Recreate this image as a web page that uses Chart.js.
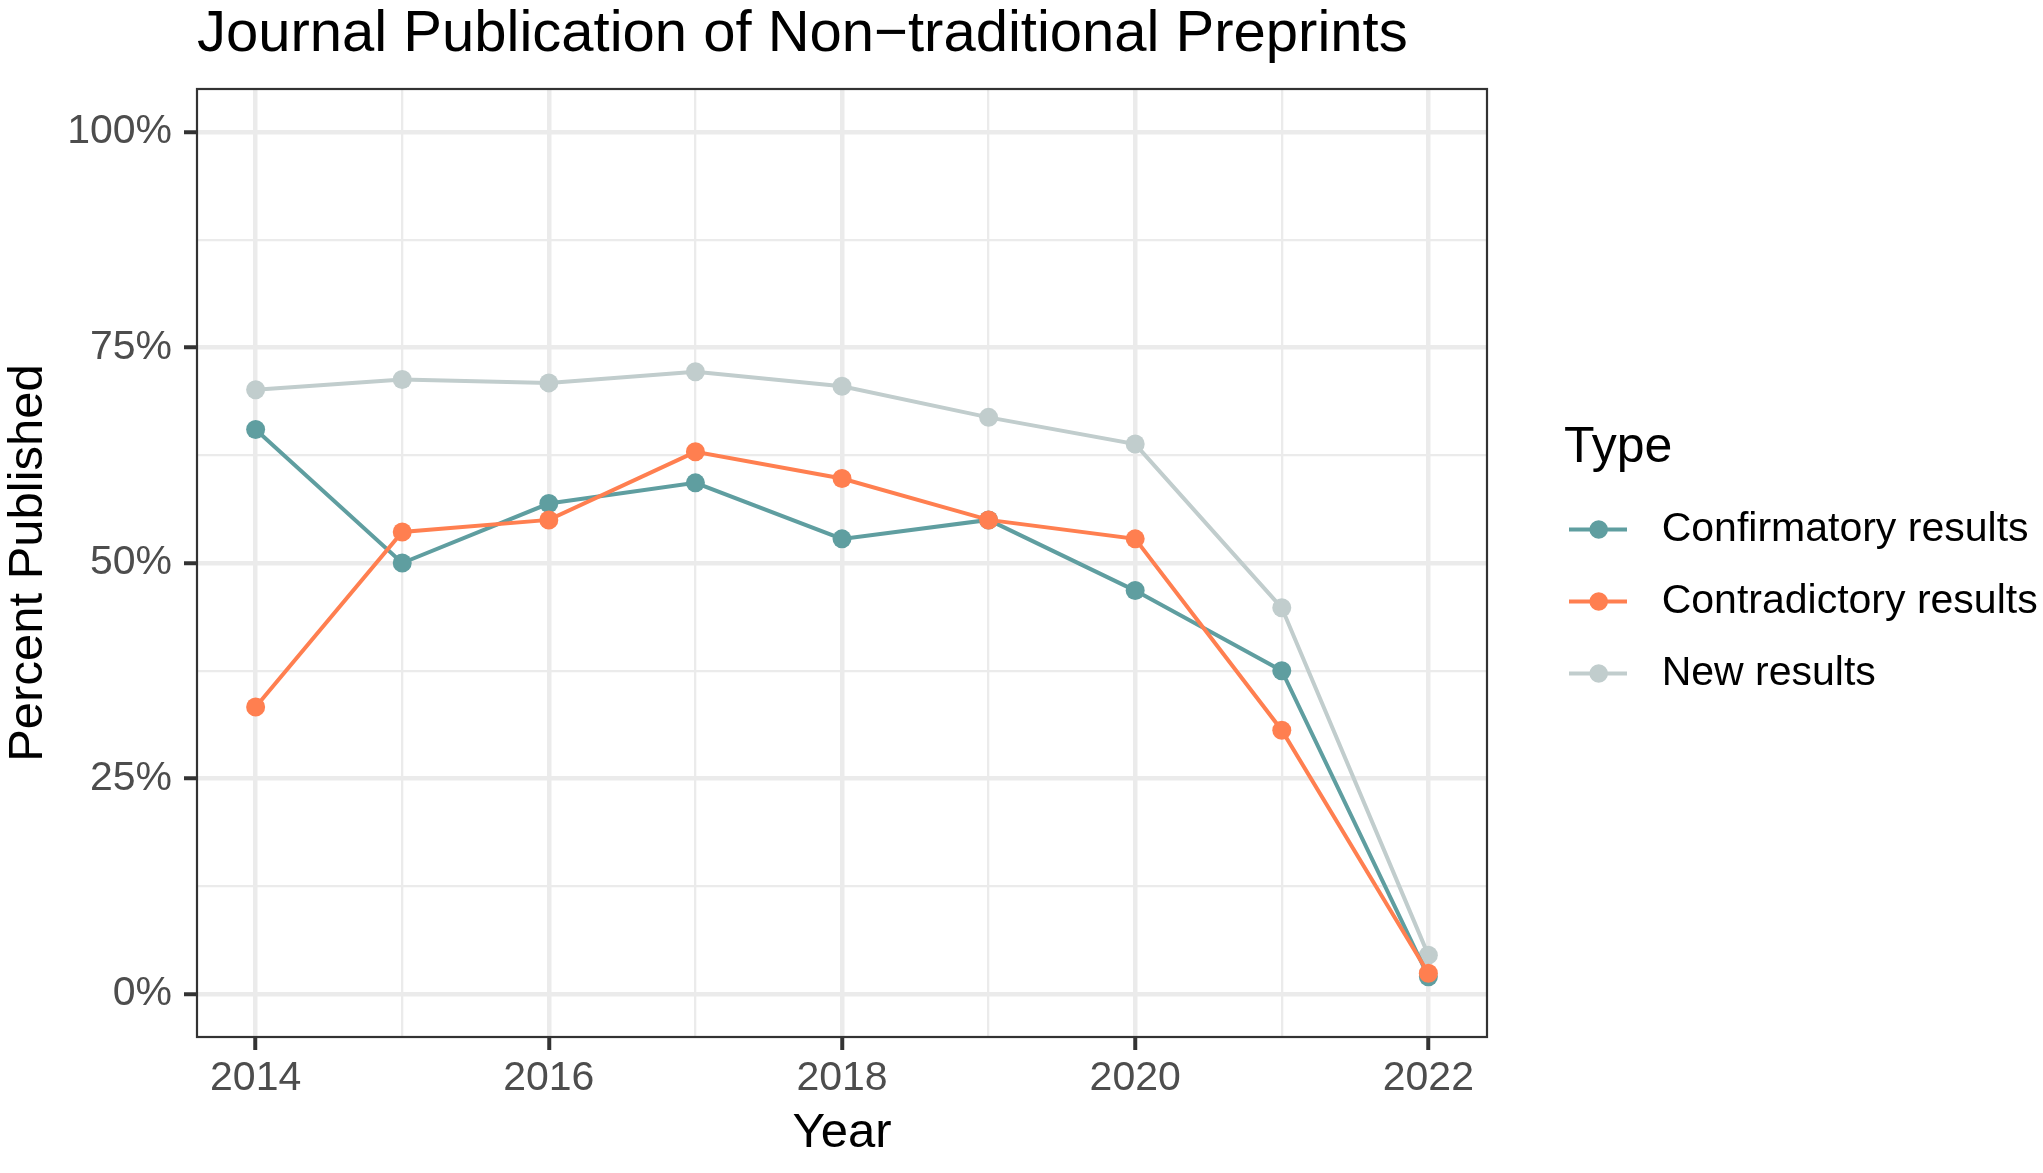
<!DOCTYPE html>
<html>
<head>
<meta charset="utf-8">
<title>Journal Publication of Non-traditional Preprints</title>
<script src="https://cdn.jsdelivr.net/npm/chart.js@4/dist/chart.umd.min.js"></script>
<style>
  html, body { margin: 0; padding: 0; background: #ffffff; }
  #wrap { width: 2043px; height: 1173px; }
</style>
</head>
<body>
<div id="wrap"><canvas id="chart" width="2043" height="1173"></canvas></div>
<script>
// data (percent published per year)
const years = [2014, 2015, 2016, 2017, 2018, 2019, 2020, 2021, 2022];
const confirmatory = [65.5, 50.0, 56.9, 59.3, 52.8, 55.0, 46.8, 37.5, 2.0];
const contradictory = [33.3, 53.6, 55.0, 62.9, 59.8, 55.0, 52.8, 30.6, 2.4];
const newResults = [70.1, 71.3, 70.9, 72.2, 70.5, 66.9, 63.8, 44.8, 4.5];

const seriesNames = ['Confirmatory results', 'Contradictory results', 'New results'];
const seriesColors = ['#5F9EA0', '#FF7F50', '#C1CDCD'];
const seriesValues = [confirmatory, contradictory, newResults];

// major + minor breaks, ggplot style
const yBreaks = [0, 12.5, 25, 37.5, 50, 62.5, 75, 87.5, 100];
const yLabelBreaks = [0, 25, 50, 75, 100];
const xLabelYears = [2014, 2016, 2018, 2020, 2022];

const FONT = '"Liberation Sans", Arial, Helvetica, sans-serif';
const GRID = '#EBEBEB';
const DARK = '#333333';

function isMajorX(v) { return xLabelYears.indexOf(v) !== -1; }
function isMajorY(v) { return yLabelBreaks.indexOf(v) !== -1; }

// ggplot-like box around the panel
const panelBorder = {
    id: 'panelBorder',
    afterDatasetsDraw(chart) {
        const a = chart.chartArea;
        const ctx = chart.ctx;
        ctx.save();
        ctx.strokeStyle = DARK;
        ctx.lineWidth = 2.2;
        ctx.strokeRect(a.left, a.top, a.right - a.left, a.bottom - a.top);
        ctx.restore();
    }
};

// legend on the right: title "Type" and a line+point key for each series
const typeLegend = {
    id: 'typeLegend',
    afterDraw(chart) {
        const a = chart.chartArea;
        const ctx = chart.ctx;
        const x0 = a.right + 77;
        ctx.save();
        ctx.fillStyle = '#000000';
        ctx.font = '50px ' + FONT;
        ctx.textAlign = 'left';
        ctx.textBaseline = 'alphabetic';
        ctx.fillText('Type', x0, 462);

        chart.data.datasets.forEach((ds, i) => {
            const cy = 529.5 + i * 72;
            ctx.strokeStyle = ds.borderColor;
            ctx.lineWidth = 4;
            ctx.beginPath();
            ctx.moveTo(x0 + 5, cy);
            ctx.lineTo(x0 + 63, cy);
            ctx.stroke();
            ctx.fillStyle = ds.backgroundColor;
            ctx.beginPath();
            ctx.arc(x0 + 34.7, cy, 9.3, 0, Math.PI * 2);
            ctx.fill();

            ctx.fillStyle = '#000000';
            ctx.font = '41px ' + FONT;
            ctx.textBaseline = 'middle';
            ctx.fillText(ds.label, x0 + 97.7, cy);
        });
        ctx.restore();
    }
};

const datasets = seriesNames.map((name, i) => ({
    label: name,
    data: years.map((y, j) => ({ x: y, y: seriesValues[i][j] })),
    borderColor: seriesColors[i],
    backgroundColor: seriesColors[i],
    borderWidth: 4,
    pointRadius: 9.5,
    pointBorderWidth: 0,
    pointBackgroundColor: seriesColors[i],
    tension: 0,
    // contradictory drawn on top, then confirmatory, new results at the back
    order: [1, 0, 2][i]
}));

new Chart(document.getElementById('chart'), {
    type: 'line',
    data: { datasets: datasets },
    options: {
        responsive: false,
        devicePixelRatio: 1,
        animation: false,
        events: [],
        layout: { padding: { left: 0, right: 556, top: 0, bottom: 0 } },
        plugins: {
            legend: { display: false },
            tooltip: { enabled: false },
            title: {
                display: true,
                text: 'Journal Publication of Non\u2212traditional Preprints',
                align: 'start',
                fullSize: false,
                color: '#000000',
                font: { family: FONT, size: 58, weight: 'normal', lineHeight: 1 },
                padding: { top: 6, bottom: 25 }
            }
        },
        scales: {
            x: {
                type: 'linear',
                min: 2013.6,
                max: 2022.4,
                afterBuildTicks: (scale) => { scale.ticks = years.map(v => ({ value: v })); },
                afterFit: (scale) => { scale.height = 136; },
                border: { display: false },
                grid: {
                    color: GRID,
                    lineWidth: (c) => (c.tick && isMajorX(c.tick.value)) ? 4.5 : 2.3,
                    tickLength: 13,
                    tickColor: DARK,
                    tickWidth: (c) => (c.tick && isMajorX(c.tick.value)) ? 4 : 0
                },
                ticks: {
                    autoSkip: false,
                    maxRotation: 0,
                    padding: 4,
                    color: '#4D4D4D',
                    font: { family: FONT, size: 41 },
                    callback: (v) => isMajorX(v) ? String(v) : ''
                },
                title: {
                    display: true,
                    text: 'Year',
                    color: '#000000',
                    font: { family: FONT, size: 49, lineHeight: 1 },
                    padding: { top: 0, bottom: 15 }
                }
            },
            y: {
                type: 'linear',
                min: -5,
                max: 105,
                afterBuildTicks: (scale) => { scale.ticks = yBreaks.map(v => ({ value: v })); },
                afterFit: (scale) => { scale.width = 197; },
                border: { display: false },
                grid: {
                    color: GRID,
                    lineWidth: (c) => (c.tick && isMajorY(c.tick.value)) ? 4.5 : 2.3,
                    tickLength: 13,
                    tickColor: DARK,
                    tickWidth: (c) => (c.tick && isMajorY(c.tick.value)) ? 4 : 0
                },
                ticks: {
                    autoSkip: false,
                    padding: 12,
                    color: '#4D4D4D',
                    font: { family: FONT, size: 41 },
                    callback: (v) => isMajorY(v) ? v + '%' : ''
                },
                title: {
                    display: true,
                    text: 'Percent Published',
                    color: '#000000',
                    font: { family: FONT, size: 49, lineHeight: 1 },
                    padding: { top: 4, bottom: 0 }
                }
            }
        }
    },
    plugins: [panelBorder, typeLegend]
});
</script>
</body>
</html>
